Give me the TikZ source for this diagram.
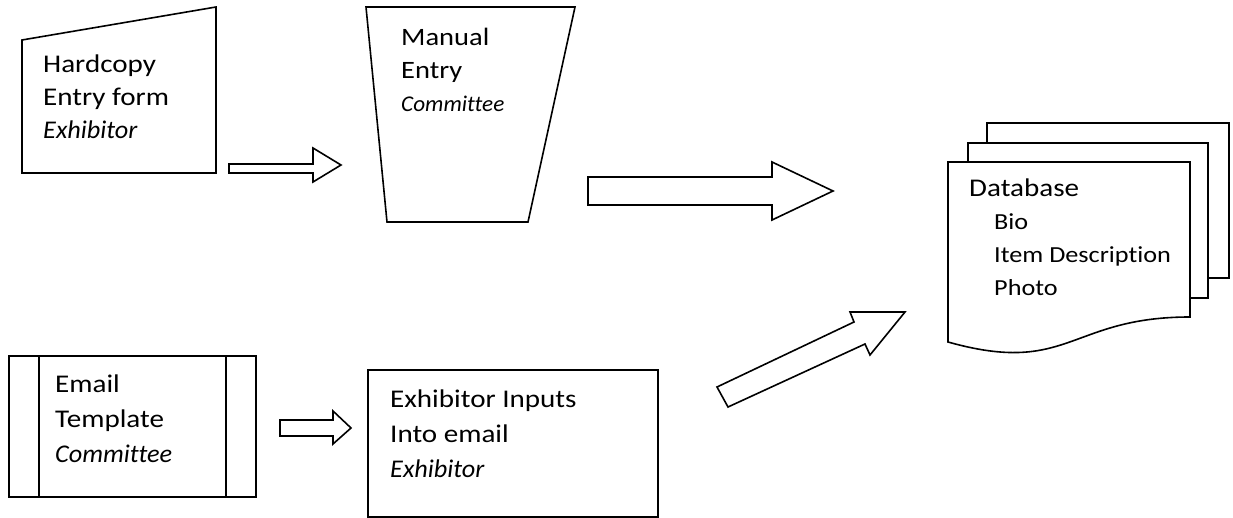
\documentclass[tikz,border=0pt]{standalone}
\usepackage{fontspec}
\setmainfont{Carlito}[FakeStretch=1.14,Ligatures=NoCommon,ItalicFeatures={FakeStretch=1.03}]
\newcommand{\dbitem}[1]{\hspace*{25pt}{\fontsize{23}{33}\selectfont #1}}
\begin{document}
\begin{tikzpicture}[x=1pt,y=-1pt,outline/.style={draw,line width=1.6pt,fill=white},txt/.style={align=left,anchor=north west,inner sep=0pt,font=\fontsize{25.5}{33}\selectfont},blk/.style={draw,line width=1.6pt,fill=white}]
            \useasboundingbox (0,0) rectangle (1233,518);
            \draw[outline] (22,40) -- (216,7) -- (216,173) -- (22,173) -- cycle;
            \node[txt] (hardcopy) at (43,55) {Hardcopy\\Entry form\\\textit{Exhibitor}};
            \draw[outline] (366,7) -- (575,7) -- (528,222) -- (387,222) -- cycle;
            \node[txt,font=\fontsize{25}{33}\selectfont] (manual) at (401,27.5) {Manual\\Entry\\{\fontsize{22.5}{34}\selectfont\itshape Committee}};
            \draw[outline] (9,356) rectangle (256,497);
            \draw[outline] (39,356) -- (39,497) (226,356) -- (226,497);
            \node[txt,font=\fontsize{25.5}{35}\selectfont] (email) at (55,375) {Email\\Template\\\textit{Committee}};
            \draw[outline] (368,370) rectangle (658,517);
            \node[txt,font=\fontsize{25.5}{35}\selectfont] (inputs) at (390,390) {Exhibitor Inputs\\Into email\\\textit{Exhibitor}};
            \draw[outline] (987,143) -- (987,123) -- (1229,123) -- (1229,278) -- (1208,278);
            \draw[outline] (968,162) -- (968,143) -- (1208,143) -- (1208,298) -- (1190,298);
            \draw[outline] (948,162) -- (1190,162) -- (1190,317) .. controls (1069,317) and (1069,376) .. (948,342) -- cycle;
            \node[txt] (db) at (969,179) {Database\\\dbitem{Bio}\\\dbitem{Item Description}\\\dbitem{Photo}};
            \draw[blk] (229,164) -- (313,164) -- (313,148) -- (341,165) -- (313,182) -- (313,173) -- (229,173) -- cycle;
            \draw[blk] (588,177) -- (772,177) -- (772,162) -- (833,191) -- (772,220) -- (772,205) -- (588,205) -- cycle;
            \draw[blk] (280,420) -- (333,420) -- (333,411) -- (351,428) -- (333,444) -- (333,436) -- (280,436) -- cycle;
            \draw[blk] (717,387) -- (854,322) -- (850,312) -- (905,312) -- (870,355) -- (865,344) -- (728,407) -- cycle;
\end{tikzpicture}
\end{document}
